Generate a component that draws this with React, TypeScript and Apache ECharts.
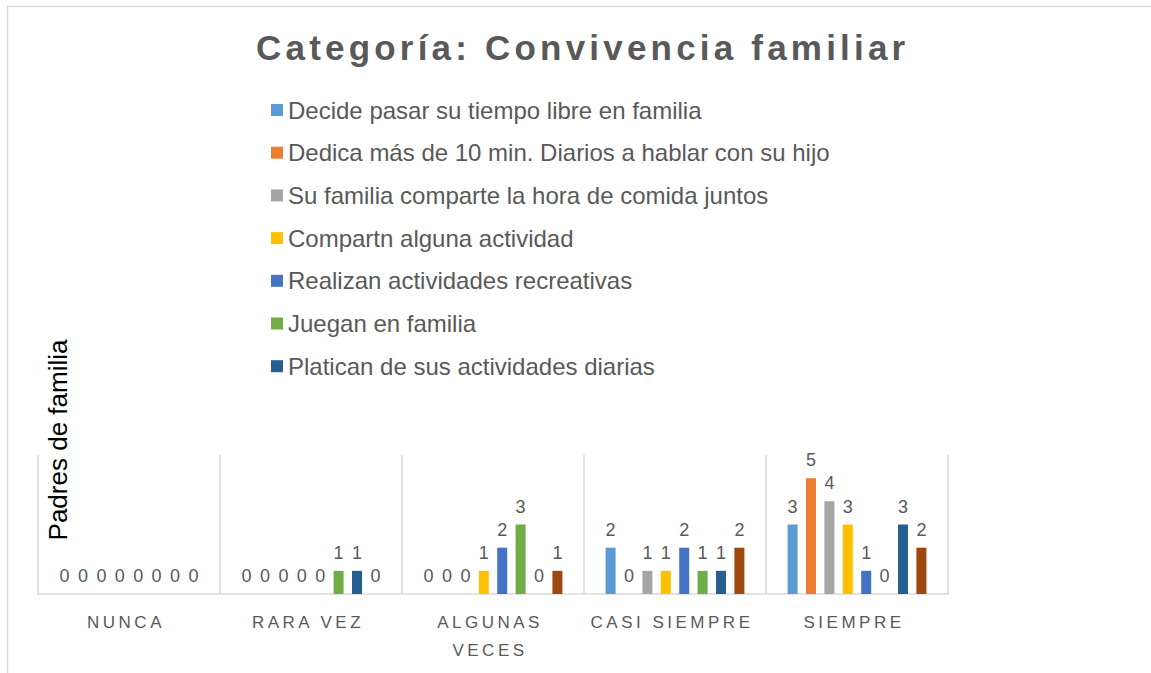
import React, { useEffect, useRef } from "react";
import * as echarts from "echarts";

const categories = ["NUNCA", "RARA VEZ", "ALGUNAS VECES", "CASI SIEMPRE", "SIEMPRE"];

const seriesNames = [
  "Decide pasar su tiempo libre en familia",
  "Dedica más de 10 min. Diarios a hablar con su hijo",
  "Su familia comparte la hora de comida juntos",
  "Compartn alguna actividad",
  "Realizan actividades recreativas",
  "Juegan en familia",
  "Platican de sus actividades diarias",
  "Serie 8",
];

const legendNames = seriesNames.slice(0, 7);

const decidePasar = [0, 0, 0, 2, 3];
const dedicaMas = [0, 0, 0, 0, 5];
const comparteComida = [0, 0, 0, 1, 4];
const compartnActividad = [0, 0, 1, 1, 3];
const realizanRecreativas = [0, 0, 2, 2, 1];
const jueganFamilia = [0, 1, 3, 1, 0];
const platicanDiarias = [0, 1, 0, 1, 3];
const serieOcho = [0, 0, 1, 2, 2];

const seriesValues = [
  decidePasar,
  dedicaMas,
  comparteComida,
  compartnActividad,
  realizanRecreativas,
  jueganFamilia,
  platicanDiarias,
  serieOcho,
];

const colors = ["#5B9BD5", "#ED7D31", "#A5A5A5", "#FFC000", "#4472C4", "#70AD47", "#255E91", "#9E480E"];

const FONT = "'Liberation Sans', Arial, sans-serif";

export default function App() {
  const ref = useRef<HTMLDivElement>(null);

  useEffect(() => {
    if (!ref.current) return;
    const chart = echarts.init(ref.current, null, { renderer: "svg" });
    chart.setOption({
      animation: false,
      color: colors,
      title: {
        text: "Categoría: Convivencia familiar",
        left: 256,
        top: 30,
        padding: 0,
        textStyle: { fontFamily: FONT, fontSize: 35, fontWeight: "bold", color: "#595959" },
      },
      legend: {
        data: legendNames,
        orient: "vertical",
        left: 271,
        top: 98,
        padding: 0,
        itemWidth: 12,
        itemHeight: 12,
        itemGap: 18.7,
        icon: "rect",
        textStyle: { fontFamily: FONT, fontSize: 24, lineHeight: 24, color: "#595959" },
      },
      grid: { left: 38, right: 203, top: 455, bottom: 79, containLabel: false },
      xAxis: {
        type: "category",
        data: categories,
        axisLine: { show: true, lineStyle: { color: "#D9D9D9", width: 1.5 } },
        axisTick: { show: false },
        splitLine: { show: true, lineStyle: { color: "#D9D9D9", width: 1.5 } },
        axisLabel: {
          fontFamily: FONT,
          fontSize: 17,
          lineHeight: 28,
          color: "#595959",
          margin: 14,
          interval: 0,
          padding: [0, 6, 0, 0],
          formatter: (v: string) => (v.length > 12 ? v.replace(" ", "\n") : v),
        },
      },
      yAxis: {
        type: "value",
        min: 0,
        max: 6,
        interval: 1,
        axisLine: { show: false },
        axisTick: { show: false },
        axisLabel: { show: false },
        splitLine: { show: false },
      },
      graphic: [
        {
          type: "rect",
          silent: true,
          shape: { x: 7.5, y: 6.5, width: 1200, height: 720 },
          style: { fill: "none", stroke: "#D9D9D9", lineWidth: 1.5 },
        },
        {
          type: "text",
          x: 58,
          y: 440,
          rotation: Math.PI / 2,
          style: {
            text: "Padres de familia",
            fontFamily: FONT,
            fontSize: 26,
            fill: "#000000",
            textAlign: "center",
            textVerticalAlign: "middle",
          },
        },
      ],
      series: seriesNames.map((name, i) => ({
        name,
        type: "bar",
        data: seriesValues[i],
        barWidth: 10,
        barGap: "84%",
        label: {
          show: true,
          position: "top",
          distance: 9,
          fontFamily: FONT,
          fontSize: 18,
          color: "#595959",
        },
      })),
    });
    return () => chart.dispose();
  }, []);

  return (
    <>
      <style>{`#chartbox text[style*="17px"]{letter-spacing:3.5px}#chartbox text[style*="35px"]{letter-spacing:4.2px}`}</style>
      <div
        id="chartbox"
        ref={ref}
        style={{ position: "absolute", left: 0, top: 0, width: 1151, height: 673, background: "#ffffff" }}
      />
    </>
  );
}
